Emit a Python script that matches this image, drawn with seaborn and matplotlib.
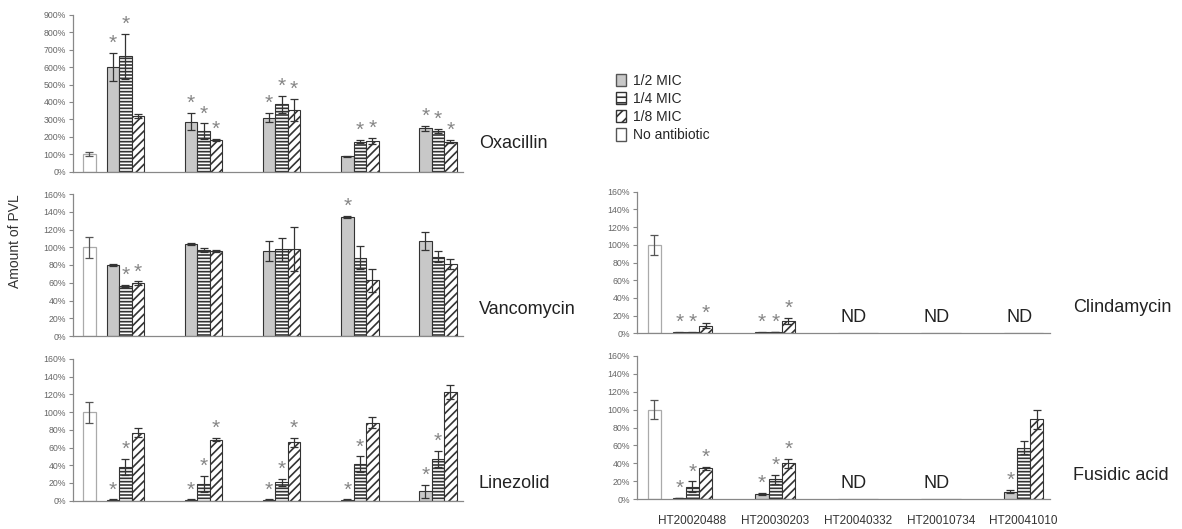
import numpy as np
import pandas as pd
import matplotlib.pyplot as plt
import seaborn as sns
from matplotlib.patches import Patch

sns.set_theme(style="ticks")
plt.rcParams["font.family"] = ["Liberation Sans", "DejaVu Sans"]
plt.rcParams["hatch.linewidth"] = 1.2

strains = ["HT20020488", "HT20030203", "HT20040332", "HT20010734", "HT20041010"]
doses = ["1/2 MIC", "1/4 MIC", "1/8 MIC"]

# values in % of the no-antibiotic control, one row per strain, columns = doses
oxa_vals = [[600, 662, 320], [287, 232, 183], [310, 386, 354], [88, 172, 176], [249, 232, 172]]
oxa_err = [[80, 130, 12], [50, 45, 5], [25, 50, 65], [3, 8, 15], [15, 12, 8]]
oxa_star = [[1, 1, 0], [1, 1, 1], [1, 1, 1], [0, 1, 1], [1, 1, 1]]

van_vals = [[80, 56.5, 59.5], [104, 97, 96], [96, 97.5, 98], [134, 88, 63], [107, 89.5, 81]]
van_err = [[1, 1, 2], [1, 2, 1], [11, 13, 25], [1.5, 13, 13], [10, 6, 6]]
van_star = [[0, 1, 1], [0, 0, 0], [0, 0, 0], [1, 0, 0], [0, 0, 0]]

lin_vals = [[1, 38, 77], [1, 19, 69], [1, 21, 66], [1, 41, 88], [10.5, 47, 123]]
lin_err = [[0.5, 9, 5], [0.5, 9, 2], [0.5, 4, 5], [0.5, 9, 6], [7, 9, 8]]
lin_star = [[1, 1, 0], [1, 1, 1], [1, 1, 1], [1, 1, 0], [1, 1, 0]]

cli_vals = [[1, 1, 8.5], [1, 1.5, 14], [0.4, 0.4, 0], [0.4, 0.4, 0], [0.4, 0.4, 0]]
cli_err = [[0.5, 0.5, 3], [0.5, 0.5, 3], [0, 0, 0], [0, 0, 0], [0, 0, 0]]
cli_star = [[1, 1, 1], [1, 1, 1], [0, 0, 0], [0, 0, 0], [0, 0, 0]]
cli_nd = [0, 0, 1, 1, 1]

fus_vals = [[1.5, 14, 34.5], [6, 22.5, 40], [0.4, 0.4, 0.4], [0.4, 0.4, 0.4], [8.5, 57.5, 89]]
fus_err = [[0.5, 6, 2], [1, 5, 5], [0, 0, 0], [0, 0, 0], [2, 7, 11]]
fus_star = [[1, 1, 1], [1, 1, 1], [0, 0, 0], [0, 0, 0], [1, 0, 0]]
fus_nd = [0, 0, 1, 1, 0]

control_val = 100
control_err = [10, 12, 12, 11, 11]

W, H = 1182, 529
fig = plt.figure(figsize=(W / 100, H / 100), dpi=100)


def px_axes(x0, x1, ytop, ybot):
    return fig.add_axes([x0 / W, 1 - ybot / H, (x1 - x0) / W, (ybot - ytop) / H])


fills = ["#c8c8c8", "white", "white"]
hatches = ["", "-----", "////"]


def panel(ax, vals, errs, stars, ctrl_err, ymax, ystep, nd=None, xlabels=False):
    df = pd.DataFrame([(s, d, vals[i][j]) for i, s in enumerate(strains)
                       for j, d in enumerate(doses)], columns=["strain", "dose", "value"])
    sns.barplot(data=df, x="strain", y="value", hue="dose", order=strains,
                hue_order=doses, width=0.48, errorbar=None, legend=False,
                edgecolor="#333333", linewidth=0.8, ax=ax)
    bar_conts = list(ax.containers)
    for j, cont in enumerate(bar_conts):
        for i, p in enumerate(cont.patches):
            p.set_facecolor(fills[j])
            p.set_hatch(hatches[j])
            p.set_edgecolor("#333333")
            xc = p.get_x() + p.get_width() / 2
            v, e = vals[i][j], errs[i][j]
            if e > 0:
                ax.errorbar(xc, v, yerr=e, fmt="none", ecolor="#333333",
                            elinewidth=0.9, capsize=3, capthick=0.9)
            if stars[i][j]:
                ax.annotate("*", xy=(xc, v + e), xytext=(0, 0),
                            textcoords="offset points", ha="center", va="bottom",
                            fontsize=15, color="#858585")
    # no-antibiotic control bar
    ax.bar(-0.46, control_val, width=0.16, color="white", edgecolor="#aaaaaa", linewidth=0.9)
    ax.errorbar(-0.46, control_val, yerr=ctrl_err, fmt="none", ecolor="#555555",
                elinewidth=0.9, capsize=3, capthick=0.9)
    if nd is not None:
        for i, flag in enumerate(nd):
            if flag:
                ax.text(i - 0.05, 18, "ND", ha="center", va="center", fontsize=13, color="#222222")
    ax.set_xlim(-0.67, 4.32)
    ax.set_ylim(0, ymax)
    ticks = np.arange(0, ymax + 1, ystep)
    ax.set_yticks(ticks)
    ax.set_yticklabels([f"{t:d}%" for t in ticks], fontsize=6.3, color="#666666")
    ax.tick_params(axis="y", length=3, width=0.8, color="#888888", pad=2)
    if xlabels:
        ax.set_xticks(range(len(strains)))
        ax.set_xticklabels(strains, fontsize=8.5, color="#333333")
        ax.tick_params(axis="x", length=0, pad=11)
    else:
        ax.set_xticks([])
    ax.set_xlabel("")
    ax.set_ylabel("")
    for s in ["top", "right"]:
        ax.spines[s].set_visible(False)
    for s in ["left", "bottom"]:
        ax.spines[s].set_color("#888888")
        ax.spines[s].set_linewidth(0.9)


ax_oxa = px_axes(73, 463, 15, 171.5)
ax_van = px_axes(73, 463, 194, 336)
ax_lin = px_axes(73, 463, 359, 500.7)
ax_cli = px_axes(637, 1050, 191.7, 333.3)
ax_fus = px_axes(637, 1050, 355.7, 499.3)

panel(ax_oxa, oxa_vals, oxa_err, oxa_star, control_err[0], 900, 100)
panel(ax_van, van_vals, van_err, van_star, control_err[1], 160, 20)
panel(ax_lin, lin_vals, lin_err, lin_star, control_err[2], 160, 20)
panel(ax_cli, cli_vals, cli_err, cli_star, control_err[3], 160, 20, nd=cli_nd)
panel(ax_fus, fus_vals, fus_err, fus_star, control_err[4], 160, 20, nd=fus_nd, xlabels=True)

# panel names
for txt, x, y in [("Oxacillin", 479, 143), ("Vancomycin", 479, 310), ("Linezolid", 479, 484),
                  ("Clindamycin", 1073, 308), ("Fusidic acid", 1073, 475)]:
    fig.text(x / W, 1 - y / H, txt, ha="left", va="center", fontsize=13, color="#222222")

fig.text(15 / W, 1 - 241 / H, "Amount of PVL", rotation=90, ha="center", va="center",
         fontsize=10, color="#333333")

handles = [Patch(facecolor=fills[0], edgecolor="#555555", hatch=hatches[0]),
           Patch(facecolor="white", edgecolor="#333333", hatch="---"),
           Patch(facecolor="white", edgecolor="#333333", hatch="///"),
           Patch(facecolor="white", edgecolor="#555555")]
fig.legend(handles, doses + ["No antibiotic"], loc="upper left",
           bbox_to_anchor=(610 / W, 1 - 68 / H), frameon=False, fontsize=10,
           handlelength=0.75, handleheight=1.0, handletextpad=0.5, labelspacing=0.3,
           borderaxespad=0)

fig.savefig("out.png", dpi=100)
